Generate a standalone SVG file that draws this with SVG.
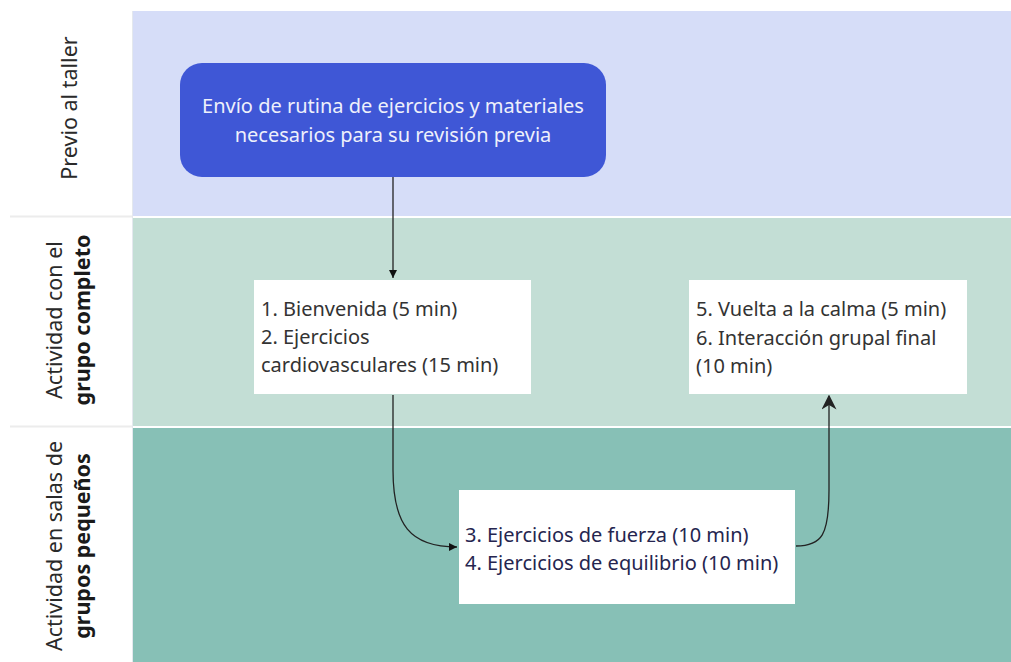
<svg xmlns="http://www.w3.org/2000/svg" width="1011" height="662" viewBox="0 0 1011 662">
<style>
.lbl{font-family:"Noto Sans","Open Sans","Liberation Sans",sans-serif;font-size:21.5px;fill:#2a2a2a}
.b{font-weight:bold;fill:#1a1a1a}
.t{font-family:"Noto Sans","Open Sans","Liberation Sans",sans-serif;font-size:20px}
.card{fill:#ffffff}
.con{fill:none;stroke:#222;stroke-width:1.3}
</style>
<defs>
<marker id="ah" viewBox="0 0 10 10" refX="10" refY="5" markerWidth="11" markerHeight="8" markerUnits="userSpaceOnUse" orient="auto">
<path d="M0,0 L10,5 L0,10 z" fill="#111"/>
</marker>
<marker id="ah2" viewBox="0 0 10 10" refX="9" refY="5" markerWidth="15" markerHeight="15" markerUnits="userSpaceOnUse" orient="auto">
<path d="M0,0 L10,5 L0,10 L3,5 z" fill="#222"/>
</marker>
</defs>
<rect width="1011" height="662" fill="#ffffff"/>
<g id="lanes">
<rect x="133" y="11" width="878" height="205" fill="#d6ddf8"/>
<rect x="133" y="218" width="878" height="208" fill="#c3ded5"/>
<rect x="133" y="428" width="878" height="234" fill="#87c0b6"/>
<line x1="10" y1="216.5" x2="132" y2="216.5" stroke="#ececec" stroke-width="2"/>
<line x1="10" y1="426.5" x2="132" y2="426.5" stroke="#ececec" stroke-width="2"/>
<line x1="132.5" y1="11" x2="132.5" y2="662" stroke="#e4e8ee" stroke-width="1"/>
</g>
<g id="lane-labels">
<text class="lbl" transform="translate(77,108) rotate(-90)" text-anchor="middle">Previo al taller</text>
<text class="lbl" transform="translate(62,320) rotate(-90)" text-anchor="middle">Actividad con el</text>
<text class="lbl b" transform="translate(90,320) rotate(-90)" text-anchor="middle">grupo completo</text>
<text class="lbl" transform="translate(62,546) rotate(-90)" text-anchor="middle">Actividad en salas de</text>
<text class="lbl b" transform="translate(90,546) rotate(-90)" text-anchor="middle">grupos pequeños</text>
</g>
<g id="connectors">
<path class="con" d="M393,177 L393,278" marker-end="url(#ah)"/>
<path class="con" d="M393,395 L393,470 C393,525 410,547 457,547" marker-end="url(#ah)"/>
<path class="con" d="M796,546 C822,546 829,535 829,490 L829,396" stroke-width="2" marker-end="url(#ah2)"/>
</g>
<g id="node-envio">
<rect x="180" y="63" width="426" height="114" rx="22" fill="#3f57d6"/>
<text class="t" fill="#eef0fb" text-anchor="middle"><tspan x="393" y="113">Envío de rutina de ejercicios y materiales</tspan><tspan x="393" y="142">necesarios para su revisión previa</tspan></text>
</g>
<g id="node-bienvenida">
<rect class="card" x="254" y="280" width="277" height="114"/>
<text class="t" fill="#333333"><tspan x="261" y="316">1. Bienvenida (5 min)</tspan><tspan x="261" y="344">2. Ejercicios</tspan><tspan x="261" y="372">cardiovasculares (15 min)</tspan></text>
</g>
<g id="node-vuelta">
<rect class="card" x="689" y="280" width="278" height="114"/>
<text class="t" fill="#333333"><tspan x="696" y="316">5. Vuelta a la calma (5 min)</tspan><tspan x="696" y="345">6. Interacción grupal final</tspan><tspan x="696" y="373">(10 min)</tspan></text>
</g>
<g id="node-fuerza">
<rect class="card" x="459" y="490" width="336" height="114"/>
<text class="t" fill="#25254f"><tspan x="465" y="542">3. Ejercicios de fuerza (10 min)</tspan><tspan x="465" y="570">4. Ejercicios de equilibrio (10 min)</tspan></text>
</g>
</svg>
